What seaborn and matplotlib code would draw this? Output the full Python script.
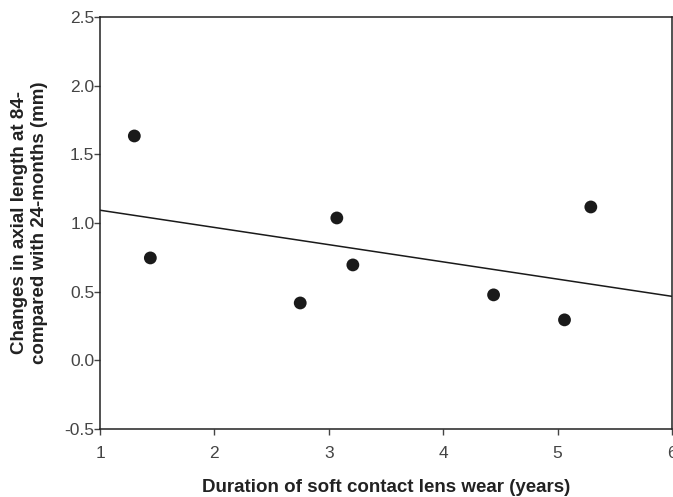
import numpy as np
import pandas as pd
import seaborn as sns
import matplotlib.pyplot as plt

duration = [1.30, 1.44, 2.75, 3.07, 3.21, 4.44, 5.06, 5.29]
axial_change = [1.633, 0.745, 0.417, 1.036, 0.694, 0.476, 0.294, 1.116]

df = pd.DataFrame({"duration": duration, "change": axial_change})

sns.set_style("ticks")
plt.rcParams['font.family'] = ['Liberation Sans', 'DejaVu Sans']

fig = plt.figure(figsize=(6.73, 4.97), dpi=100)
ax = fig.add_axes([0.1486, 0.137, 0.8500, 0.829])
ax.set_xlim(1, 6)
ax.set_ylim(-0.5, 2.5)

sns.regplot(
    data=df, x="duration", y="change", ax=ax,
    ci=None, truncate=False,
    scatter_kws={"s": 85, "color": "#1a1a1a", "edgecolor": "none", "alpha": 1},
    line_kws={"color": "#1a1a1a", "linewidth": 1.1},
)
ax.set_xlim(1, 6)
ax.set_ylim(-0.5, 2.5)

ax.set_xticks([1, 2, 3, 4, 5, 6])
ax.set_yticks([-0.5, 0.0, 0.5, 1.0, 1.5, 2.0, 2.5])
ax.set_yticklabels(["-0.5", "0.0", "0.5", "1.0", "1.5", "2.0", "2.5"])
ax.tick_params(axis="both", labelsize=12.5, colors="#444444", length=4, width=1)
ax.tick_params(axis="x", pad=8)
ax.tick_params(axis="y", pad=0)

for side in ["top", "right", "left", "bottom"]:
    ax.spines[side].set_visible(True)
    ax.spines[side].set_color("#222222")
    ax.spines[side].set_linewidth(1.1)
ax.tick_params(top=False, right=False)

ax.set_xlabel("Duration of soft contact lens wear (years)", fontsize=13.5, fontweight="bold",
              color="#222222", labelpad=13)
ax.set_ylabel("Changes in axial length at 84-\ncompared with 24-months (mm)", fontsize=13.5,
              fontweight="bold", color="#222222", labelpad=12, linespacing=1.2)

fig.savefig("out.png", dpi=100)
